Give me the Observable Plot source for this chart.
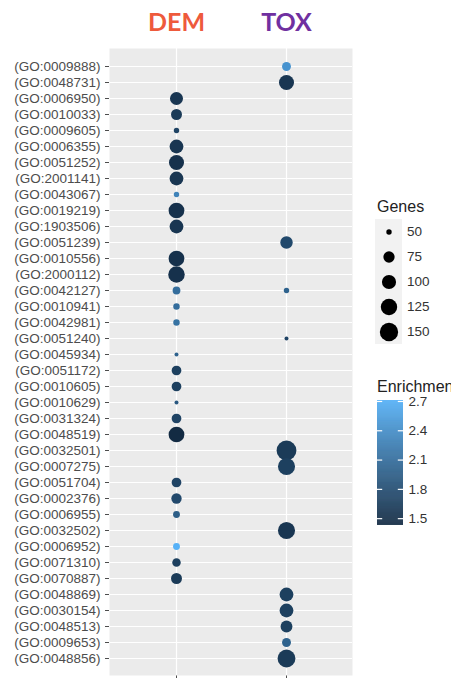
<!DOCTYPE html>
<html>
<head>
<meta charset="utf-8">
<script src="https://cdn.jsdelivr.net/npm/d3@7"></script>
<script src="https://cdn.jsdelivr.net/npm/@observablehq/plot@0.6"></script>
<style>
  html, body { margin: 0; padding: 0; background: white; }
  #wrap { position: relative; width: 451px; height: 683px; overflow: hidden; }
  #wrap svg { background: transparent; }
  .abs { position: absolute; }
  .ltitle { font-family: "Liberation Sans", Arial, sans-serif; font-size: 16px; color: #222; line-height: 18px; white-space: nowrap; }
</style>
</head>
<body>
<div id="wrap"></div>
<script>
// ---- data ----
const conditions = ["DEM", "TOX"];
const headerColors = ["#EE5A3C", "#7030A0"];
const goIds = [
  "GO:0009888","GO:0048731","GO:0006950","GO:0010033","GO:0009605","GO:0006355",
  "GO:0051252","GO:2001141","GO:0043067","GO:0019219","GO:1903506","GO:0051239",
  "GO:0010556","GO:2000112","GO:0042127","GO:0010941","GO:0042981","GO:0051240",
  "GO:0045934","GO:0051172","GO:0010605","GO:0010629","GO:0031324","GO:0048519",
  "GO:0032501","GO:0007275","GO:0051704","GO:0002376","GO:0006955","GO:0032502",
  "GO:0006952","GO:0071310","GO:0070887","GO:0048869","GO:0030154","GO:0048513",
  "GO:0009653","GO:0048856"
];
const demGenes = [
  null, null, 89, 73, 50, 96,
  109, 96, 50, 117, 96, null,
  117, 126, 56, 52, 52, null,
  49, 65, 65, 49, 65, 117,
  null, null, 65, 69, 53, null,
  53, 59, 73, null, null, null,
  null, null
];
const demEnrich = [
  null, null, 1.55, 1.6, 1.7, 1.55,
  1.5, 1.55, 2.3, 1.5, 1.55, null,
  1.5, 1.5, 2.1, 2.1, 2.15, null,
  2.0, 1.65, 1.65, 1.9, 1.7, 1.43,
  null, null, 1.7, 1.75, 1.95, null,
  2.71, 1.65, 1.6, null, null, null,
  null, null
];
const toxGenes = [
  61, 109, null, null, null, null,
  null, null, null, null, null, 84,
  null, null, 50, null, null, 49,
  null, null, null, null, null, null,
  172, 133, null, null, null, 133,
  null, null, null, 96, 96, 79,
  61, 143
];
const toxEnrich = [
  2.45, 1.55, null, null, null, null,
  null, null, null, null, null, 1.75,
  null, null, 2.0, null, null, 1.7,
  null, null, null, null, null, null,
  1.6, 1.65, null, null, null, 1.55,
  null, null, null, 1.65, 1.65, 1.65,
  2.0, 1.6
];
const legendGenes = [50, 75, 100, 125, 150];
const colorTicks = [1.5, 1.8, 2.1, 2.4, 2.7];

// ---- build table ----
const rows = [];
goIds.forEach((go, i) => {
  if (demGenes[i] != null) rows.push({go, cond: "DEM", genes: demGenes[i], enrich: demEnrich[i]});
  if (toxGenes[i] != null) rows.push({go, cond: "TOX", genes: toxGenes[i], enrich: toxEnrich[i]});
});
const gMin = d3.min(rows, d => d.genes);
const gMax = d3.max(rows, d => d.genes);
const eMin = d3.min(rows, d => d.enrich);
const eMax = d3.max(rows, d => d.enrich);

const rScale = {type: "sqrt", domain: [0, gMax - gMin], range: [2.0, 9.9]};
const colorScale = {type: "linear", domain: [eMin, eMax], range: ["#132B43", "#56B1F7"], interpolate: d3.interpolateLab};

const font = "Liberation Sans, Arial, sans-serif";
const wrap = document.getElementById("wrap");

// ---- main chart ----
const main = Plot.plot({
  width: 451, height: 683,
  marginLeft: 109, marginRight: 99, marginTop: 48, marginBottom: 8,
  style: {fontFamily: font, fontSize: "13.5px", color: "#4D4D4D", background: "transparent"},
  x: {type: "point", domain: conditions, padding: 0.6, tickSize: 3, tickFormat: () => "", label: null},
  y: {type: "point", domain: goIds, padding: 0.6, tickSize: 4, tickPadding: 5, tickFormat: d => `(${d})`, label: null},
  r: rScale,
  color: colorScale,
  marks: [
    Plot.frame({fill: "#EBEBEB", stroke: "none"}),
    Plot.ruleY(goIds, {y: d => d, stroke: "white", strokeWidth: 1.2}),
    Plot.ruleX(conditions, {x: d => d, stroke: "white", strokeWidth: 1.2}),
    Plot.dot(rows, {x: "cond", y: "go", r: d => d.genes - gMin, fill: "enrich", stroke: "none"}),
    ...conditions.map((c, i) => Plot.text([c], {
      x: d => d, frameAnchor: "top", dy: -26, lineAnchor: "middle",
      text: d => d, fill: headerColors[i], fontWeight: "bold", fontSize: 25, fontFamily: "Lato, Open Sans, sans-serif"
    }))
  ]
});
main.style.position = "absolute";
main.style.left = "0px";
main.style.top = "0px";
wrap.appendChild(main);

// ---- size legend ----
const gTitle = document.createElement("div");
gTitle.className = "abs ltitle";
gTitle.style.left = "377px";
gTitle.style.top = "198px";
gTitle.textContent = "Genes";
wrap.appendChild(gTitle);

const sizeLegend = Plot.plot({
  width: 80, height: 125,
  marginLeft: 0, marginRight: 53, marginTop: 0, marginBottom: 0,
  style: {fontFamily: font, fontSize: "13.5px", color: "#333", background: "transparent"},
  x: {type: "band", domain: ["k"], padding: 0, axis: null},
  y: {type: "band", domain: legendGenes, padding: 0, axis: null},
  r: rScale,
  marks: [
    Plot.cell(legendGenes, {x: () => "k", y: d => d, fill: "#F2F2F2", inset: 0}),
    Plot.dot(legendGenes, {x: () => "k", y: d => d, r: d => d - gMin, fill: "black", stroke: "none"}),
    Plot.text(legendGenes, {x: () => "k", y: d => d, text: d => String(d), dx: 18, textAnchor: "start", fill: "#333"})
  ]
});
sizeLegend.style.position = "absolute";
sizeLegend.style.left = "375px";
sizeLegend.style.top = "219px";
wrap.appendChild(sizeLegend);

// ---- colour legend ----
const step = 0.005;
const grad = d3.range(eMin, eMax, step);
const colorLegend = Plot.plot({
  width: 70, height: 141,
  marginLeft: 0, marginRight: 44, marginTop: 8, marginBottom: 8,
  style: {fontFamily: font, fontSize: "13.5px", color: "#333", background: "transparent", overflow: "visible"},
  x: {domain: [0, 1], axis: null},
  y: {domain: [eMin, eMax], axis: "right", ticks: colorTicks, tickSize: 0, tickPadding: 5, tickFormat: ".1f", label: null},
  color: colorScale,
  marks: [
    Plot.rect(grad, {x1: 0, x2: 1, y1: d => d, y2: d => Math.min(eMax, d + step * 1.6), fill: d => d, inset: 0}),
    Plot.ruleY(colorTicks, {y: d => d, x1: 0, x2: 0.2, stroke: "white", strokeWidth: 1.2}),
    Plot.ruleY(colorTicks, {y: d => d, x1: 0.8, x2: 1, stroke: "white", strokeWidth: 1.2})
  ]
});
colorLegend.style.position = "absolute";
colorLegend.style.left = "377px";
colorLegend.style.top = "392px";
wrap.appendChild(colorLegend);

const eTitle = document.createElement("div");
eTitle.className = "abs ltitle";
eTitle.style.left = "377px";
eTitle.style.top = "378px";
eTitle.textContent = "Enrichment";
wrap.appendChild(eTitle);
</script>
</body>
</html>
